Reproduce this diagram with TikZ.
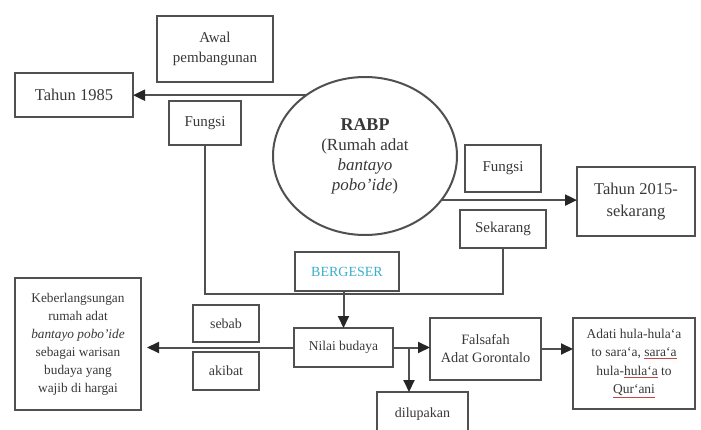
\documentclass[tikz,border=0pt]{standalone}
\usepackage{fontspec}
\setmainfont{Liberation Serif}
\usetikzlibrary{arrows.meta,shapes.geometric}
\definecolor{ln}{HTML}{505050}
\definecolor{tx}{HTML}{383838}
\definecolor{cy}{HTML}{3ab0cc}
\definecolor{ulc}{HTML}{c04848}
\newcommand\redul[1]{\textcolor{ulc}{\underline{\textcolor{tx}{#1}}}}
\begin{document}
\begin{tikzpicture}[x=1pt,y=-1pt,
  box/.style={draw=ln, line width=2pt, rectangle, inner sep=0pt, outer sep=0pt, align=center, text=tx, font=\fontsize{14}{18}\selectfont},
  conn/.style={draw=ln, line width=2pt},
  arr/.style={conn, -{Triangle[length=12pt,width=11pt,color=black!85]}},
]
\useasboundingbox (0,0) rectangle (701,430);
\fill[white] (0,0) rectangle (701,430);
\clip (0,0) rectangle (701,430);

\node[box, minimum width=116pt, minimum height=66pt, font=\fontsize{15}{20}\selectfont] (awal) at (215,49) {Awal\\pembangunan};
\node[box, minimum width=118pt, minimum height=44pt, font=\fontsize{16.5}{21}\selectfont] (t1985) at (74,95) {Tahun 1985};
\node[box, minimum width=72pt, minimum height=44pt, font=\fontsize{15}{19}\selectfont] (fungsiL) at (205,123) {Fungsi};
\node[draw=ln, line width=2pt, ellipse, inner sep=0pt, outer sep=0pt, minimum width=184pt, minimum height=158pt, align=center, text=tx, font=\fontsize{17}{20}\selectfont] (rabp) at (365,156) {{\fontsize{18}{22}\selectfont\bfseries RABP}\\(Rumah adat\\\textit{bantayo}\\\textit{pobo’ide})};
\node[box, minimum width=76pt, minimum height=47pt, font=\fontsize{15}{19}\selectfont] (fungsiR) at (503,168.5) {Fungsi};
\node[box, minimum width=118pt, minimum height=69pt, font=\fontsize{16.5}{22}\selectfont] (t2015) at (636,201.5) {Tahun 2015-\\sekarang};
\node[box, minimum width=86pt, minimum height=38pt, font=\fontsize{15}{19}\selectfont] (sekarang) at (503,229) {Sekarang};
\node[box, minimum width=104pt, minimum height=39pt, text=cy] (bergeser) at (347,271.5) {BERGESER};
\node[box, minimum width=99pt, minimum height=39pt, font=\fontsize{13.5}{17}\selectfont] (nilai) at (343.5,347.5) {Nilai budaya};
\node[box, minimum width=126pt, minimum height=132pt, font=\fontsize{13.3}{18}\selectfont] (keber) at (78,344) {Keberlangsungan\\rumah adat\\\textit{bantayo pobo’ide}\\sebagai warisan\\budaya yang\\wajib di hargai};
\node[box, minimum width=66pt, minimum height=37pt] (sebab) at (226,323.5) {sebab};
\node[box, minimum width=66pt, minimum height=38pt] (akibat) at (226,371) {akibat};
\node[box, minimum width=111pt, minimum height=62pt, font=\fontsize{14.3}{18}\selectfont] (falsafah) at (485.5,349) {Falsafah\\Adat Gorontalo};
\node[box, minimum width=122pt, minimum height=91pt, font=\fontsize{13.5}{18.5}\selectfont] (adat) at (634,363.5) {Adati hula-hula`a\\to sara`a, \redul{sara`a}\\hula-\redul{hula`a} to\\\redul{Qur`ani}};
\node[box, minimum width=91pt, minimum height=44pt] (dilup) at (422.5,414) {dilupakan};

\coordinate (loopR) at (503,294);
\draw[conn] (fungsiL.south) |- (loopR) -- (sekarang.south);

\draw[arr] (rabp.134) -- (rabp.134 -| t1985.east);
\draw[arr] (rabp.-30.8) -- (rabp.-30.8 -| t2015.west);
\draw[arr] (bergeser.south -| nilai.north) -- (nilai.north);
\draw[arr, shorten >=6pt] (nilai.west) -- (nilai.west -| keber.east);
\draw[arr] (nilai.east) -- (nilai.east -| falsafah.west);
\path (nilai.east) ++(16,0) coordinate (br);
\draw[arr] (br) -- (br |- dilup.north);
\draw[arr] (falsafah.east) -- (falsafah.east -| adat.west);
\end{tikzpicture}
\end{document}
